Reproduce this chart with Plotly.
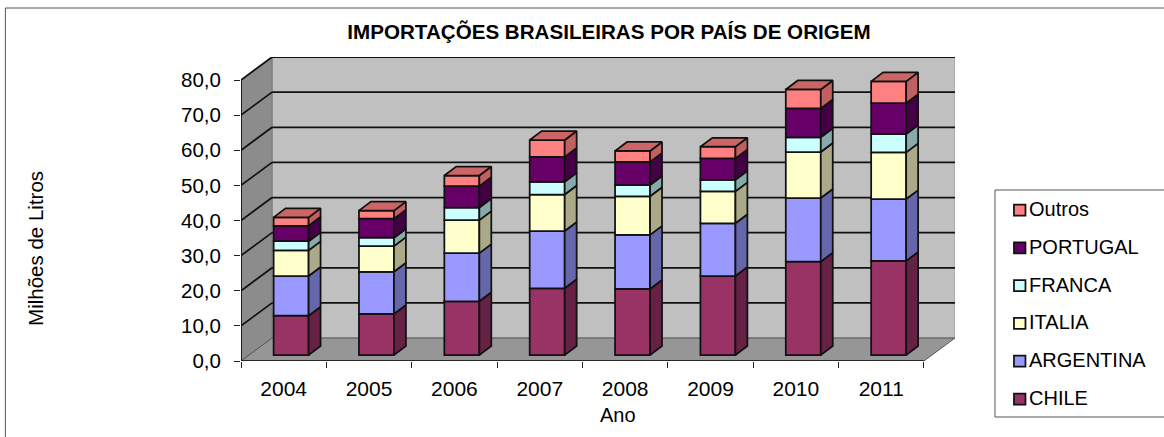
import plotly.graph_objects as go

# ---- data ----
anos = ["2004", "2005", "2006", "2007", "2008", "2009", "2010", "2011"]
chile = [11.2, 11.7, 15.3, 19.0, 18.8, 22.5, 26.6, 26.8]
argentina = [11.3, 12.0, 13.7, 16.3, 15.4, 15.0, 18.1, 17.6]
italia = [7.3, 7.3, 9.4, 10.4, 11.0, 9.1, 13.1, 13.3]
franca = [2.6, 2.4, 3.6, 3.6, 3.2, 3.3, 4.2, 5.2]
portugal = [4.4, 5.4, 6.1, 7.1, 6.6, 6.1, 8.2, 8.8]
outros = [2.4, 2.3, 3.0, 4.8, 3.1, 3.3, 5.4, 6.2]
y_ticks = [0, 10, 20, 30, 40, 50, 60, 70, 80]
y_labels = ["0,0", "10,0", "20,0", "30,0", "40,0", "50,0", "60,0", "70,0", "80,0"]

series = [
    ("CHILE", chile, "#993366", "#662244"),
    ("ARGENTINA", argentina, "#9999FF", "#6666AA"),
    ("ITALIA", italia, "#FFFFCC", "#AAAA88"),
    ("FRANCA", franca, "#CCFFFF", "#88AAAA"),
    ("PORTUGAL", portugal, "#660066", "#440044"),
    ("Outros", outros, "#FF8080", "#C06060"),
]
TOP_COLOR = "#CC6666"

# ---- geometry ----
W, H = 1164, 437
PL, PR, PT, PB = 240.7, 955.0, 57.0, 361.0      # plot area in pixels
CAT_PX = 85.4
UNIT_PX = 3.5125
x_range = [-0.5, -0.5 + (PR - PL) / CAT_PX]
y_range = [0, (PB - PT) / UNIT_PX]
X_END = len(anos) - 0.5
DX, DY = (PR - PL) / CAT_PX - len(anos), (PB - PT) / UNIT_PX - 80   # depth of the box
BAR_X, BAR_B = 0.087, 1.7       # offset of bar front from the axis plane
BAR_W = 0.41
SIDE_X, SIDE_Y = 0.14, 2.56     # depth of a bar
LINE = "#111111"
LW = 1.75


def px(v):
    return (v - PL) / (PR - PL)


def py(v):
    return 1 - (v - PT) / (PB - PT)


fig = go.Figure()
shapes = []


def poly(xs, ys, fill, line=None, lw=1):
    path = "M" + " L".join(f"{a},{b}" for a, b in zip(xs, ys)) + " Z"
    shapes.append(dict(type="path", path=path, xref="x", yref="y", fillcolor=fill, layer="below",
                       line=dict(color=line or fill, width=lw)))


def seg(x0, y0, x1, y1, color=LINE, lw=LW):
    shapes.append(dict(type="line", x0=x0, y0=y0, x1=x1, y1=y1, xref="x", yref="y", layer="below",
                       line=dict(color=color, width=lw)))


x0, x1 = -0.5, X_END
poly([x0 + DX, x1 + DX, x1 + DX, x0 + DX], [DY, DY, 80 + DY, 80 + DY], "#C0C0C0", "#9A9A9A", 1)
poly([x0, x0 + DX, x0 + DX, x0], [0, DY, 80 + DY, 80], "#8C8C8C", "#777777", 1)
poly([x0, x1, x1 + DX, x0 + DX], [0, 0, DY, DY], "#969696", "#555555", 1)
for v in y_ticks[1:]:
    seg(x0, v, x0 + DX, v + DY)
    seg(x0 + DX, v + DY, x1 + DX, v + DY)
seg(x0, 0, x0, 80)
seg(x0, 0, x1, 0)

base = [0.0] * len(anos)
for name, vals, col, side in series:
    fig.add_bar(
        x=[i + BAR_X for i in range(len(anos))],
        y=vals,
        base=[b + BAR_B for b in base],
        width=BAR_W,
        name=name,
        showlegend=False,
        hoverinfo="skip",
        marker=dict(color=col, line=dict(color=LINE, width=LW)),
    )
    xs, ys = [], []
    for i, (b, v) in enumerate(zip(base, vals)):
        r = i + BAR_X + BAR_W / 2
        xs += [r, r + SIDE_X, r + SIDE_X, r, r, None]
        ys += [b + BAR_B, b + BAR_B + SIDE_Y, b + v + BAR_B + SIDE_Y, b + v + BAR_B, b + BAR_B, None]
    fig.add_scatter(x=xs, y=ys, mode="lines", fill="toself", fillcolor=side, showlegend=False,
                    hoverinfo="skip", line=dict(color=LINE, width=LW))
    base = [b + v for b, v in zip(base, vals)]

xs, ys = [], []
for i, b in enumerate(base):
    l, r = i + BAR_X - BAR_W / 2, i + BAR_X + BAR_W / 2
    t = b + BAR_B
    xs += [l, r, r + SIDE_X, l + SIDE_X, l, None]
    ys += [t, t, t + SIDE_Y, t + SIDE_Y, t, None]
fig.add_scatter(x=xs, y=ys, mode="lines", fill="toself", fillcolor=TOP_COLOR, showlegend=False,
                hoverinfo="skip", line=dict(color=LINE, width=LW))

FONT = "Liberation Sans, Arial, sans-serif"
annotations = [
    dict(text="Milhões de Litros", x=px(34.5), y=py(248), textangle=-90, font=dict(size=20.5)),
    dict(text="Ano", x=px(618), y=py(415), font=dict(size=20)),
]

# chart frame
for a, b, c, d in [(5, 437, 5, 8), (5, 8, 1164, 8)]:
    shapes.append(dict(type="line", xref="paper", yref="paper", layer="below", x0=px(a), y0=py(b), x1=px(c), y1=py(d),
                       line=dict(color="#555555", width=1)))
# key
shapes.append(dict(type="rect", xref="paper", yref="paper", layer="below", x0=px(995), x1=px(1170), y0=py(417), y1=py(190),
                   fillcolor="white", line=dict(color="#555555", width=1)))
for k, (name, vals, col, side) in enumerate(series):
    yc = 399 - 37.8 * k
    shapes.append(dict(type="rect", xref="paper", yref="paper", x0=px(1014), x1=px(1025.5), y0=py(yc + 5.5), y1=py(yc - 5.5),
                       fillcolor=col, line=dict(color=LINE, width=LW)))
    annotations.append(dict(text=name, x=px(1027), y=py(yc - 1), xanchor="left", font=dict(size=20)))

for a in annotations:
    a.update(xref="paper", yref="paper", showarrow=False)
    a.setdefault("xanchor", "center")
    a.setdefault("yanchor", "middle")

fig.update_layout(
    width=W, height=H,
    margin=dict(l=PL, r=W - PR, t=PT, b=H - PB, pad=0),
    paper_bgcolor="white", plot_bgcolor="rgba(0,0,0,0)",
    font=dict(family=FONT, color="#000000", size=20),
    barmode="overlay",
    showlegend=False,
    title=dict(text="<b>IMPORTAÇÕES BRASILEIRAS POR PAÍS DE ORIGEM</b>", x=609 / W, xanchor="center",
               y=1 - 32 / H, yanchor="middle", font=dict(size=20.6, family=FONT)),
    shapes=shapes,
    annotations=annotations,
    xaxis=dict(range=x_range, tickmode="array", tickvals=list(range(len(anos))), ticktext=anos, showgrid=False,
               zeroline=False, showline=False, ticks="", ticklabelstandoff=13, tickfont=dict(size=21),
               minor=dict(tickmode="array", tickvals=[i - 0.5 for i in range(len(anos) + 1)], ticks="outside",
                          ticklen=6, tickwidth=1, tickcolor="#222222", showgrid=False)),
    yaxis=dict(range=y_range, tickmode="array", tickvals=y_ticks, ticktext=y_labels, showgrid=False,
               zeroline=False, showline=False, ticks="outside", ticklen=6, tickwidth=1, tickcolor="#222222",
               ticklabelstandoff=9, tickfont=dict(size=20.5)),
)

fig.write_html("out.html", config={"displayModeBar": False},
               post_script="document.body.style.margin='0';document.body.style.overflow='hidden';")
